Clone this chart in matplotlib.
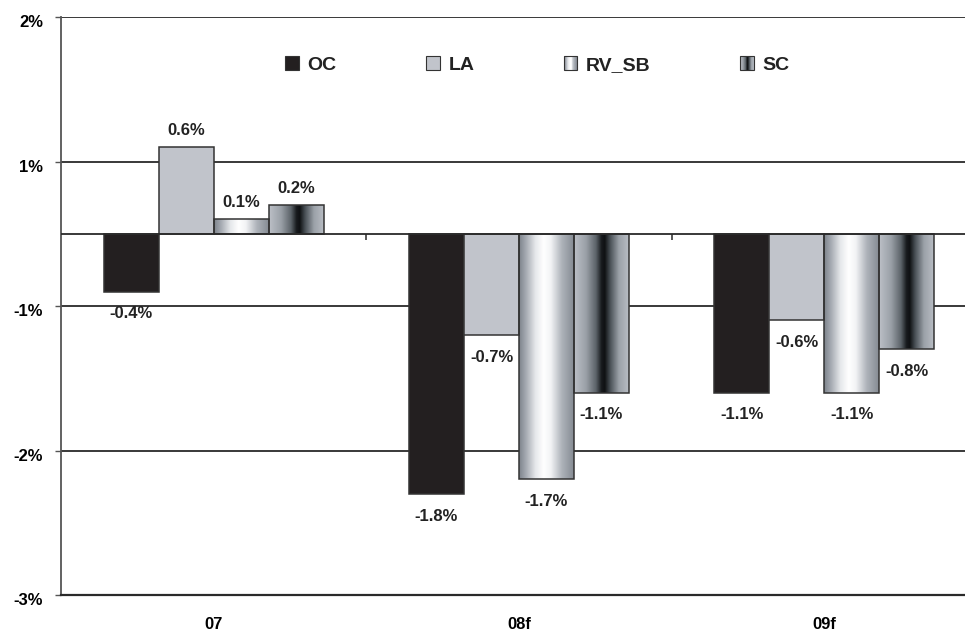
import matplotlib
matplotlib.use("Agg")
import matplotlib.pyplot as plt
import matplotlib.transforms as mtransforms
from matplotlib.colors import LinearSegmentedColormap
from matplotlib.legend_handler import HandlerBase
from matplotlib.patches import Rectangle
import numpy as np

plt.rcParams['font.family'] = ['Liberation Sans', 'DejaVu Sans']
plt.rcParams['font.weight'] = 'bold'

categories = ['07', '08f', '09f']
series = ['OC', 'LA', 'RV_SB', 'SC']
oc = [-0.4, -1.8, -1.1]
la = [0.6, -0.7, -0.6]
rv_sb = [0.1, -1.7, -1.1]
sc = [0.2, -1.1, -0.8]
values = [oc, la, rv_sb, sc]

ytick_pos = [-2.5, -1.5, -0.5, 0.5, 1.5]
ytick_labels = ['-3%', '-2%', '-1%', '1%', '2%']

edge = '#333333'
grid = '#2a2a2a'

# horizontal shading for the "cylinder" style bars
cmap_rv = LinearSegmentedColormap.from_list('rv', [
    (0.0, '#7d838b'), (0.12, '#a3a8b0'), (0.30, '#e6e8eb'), (0.45, '#ffffff'),
    (0.58, '#f2f3f5'), (0.78, '#aeb3ba'), (1.0, '#858b93')])
cmap_sc = LinearSegmentedColormap.from_list('sc', [
    (0.0, '#bcc0c7'), (0.22, '#9aa0a7'), (0.40, '#5c6369'), (0.50, '#181b1e'),
    (0.56, '#0f1113'), (0.66, '#4a5157'), (0.82, '#9ba1a8'), (1.0, '#b9bdc4')])
fills = ['#231f20', '#c1c4cb', cmap_rv, cmap_sc]

fig = plt.figure(figsize=(9.65, 6.31), dpi=100)
ax = fig.add_axes([61 / 965, 36 / 631, 916 / 965, 578 / 631])

width = 0.18
offsets = [-0.27, -0.09, 0.09, 0.27]
x = np.arange(len(categories))

for vals, fill, off in zip(values, fills, offsets):
    xs = x + off
    if isinstance(fill, str):
        ax.bar(xs, vals, width, color=fill, edgecolor=edge, linewidth=1.1, zorder=3)
    else:
        grad = np.linspace(0, 1, 256).reshape(1, -1)
        for xc, v in zip(xs, vals):
            ax.imshow(grad, cmap=fill, aspect='auto', interpolation='bilinear',
                      extent=(xc - width / 2, xc + width / 2, min(v, 0), max(v, 0)),
                      zorder=2)
        ax.bar(xs, vals, width, facecolor='none', edgecolor=edge, linewidth=1.1, zorder=3)
    for xc, v in zip(xs, vals):
        dy = 12 if v > 0 else -16
        ax.annotate(f'{v:.1f}%', (xc, v), xytext=(0, dy), textcoords='offset points',
                    ha='center', va='center', fontsize=12, fontweight='bold', color='#222222')

ax.set_xlim(-0.5, 2.5)
ax.set_ylim(-2.5, 1.5)

for y in ytick_pos[1:]:
    ax.axhline(y, color=grid, linewidth=1.3, zorder=1)
ax.axhline(0, color=grid, linewidth=1.3, zorder=4)
ax.vlines(x[:-1] + 0.5, 0, -0.045, color=grid, linewidth=1.1, zorder=4)

ax.set_yticks(ytick_pos)
ax.set_yticklabels(ytick_labels)
ax.set_xticks(x)
ax.set_xticklabels(categories)
ax.tick_params(axis='y', length=4.5, width=1, color='#555555', pad=8.5, labelsize=12)
ax.tick_params(axis='x', length=0, pad=16, labelsize=12)
shift = mtransforms.ScaledTranslation(0, -3 / 72, fig.dpi_scale_trans)
for lab in ax.get_yticklabels():
    lab.set_transform(lab.get_transform() + shift)

ax.spines['right'].set_visible(False)
ax.spines['top'].set_visible(False)
ax.spines['left'].set_color('#555555')
ax.spines['left'].set_linewidth(1.3)
ax.spines['bottom'].set_color(grid)
ax.spines['bottom'].set_linewidth(1.6)


class SwatchHandler(HandlerBase):
    def create_artists(self, legend, orig_handle, xdescent, ydescent, width, height,
                       fontsize, trans):
        fill = orig_handle.fill
        size = height
        x0 = -xdescent
        y0 = -ydescent
        arts = []
        if isinstance(fill, str):
            arts.append(Rectangle((x0, y0), size, size, facecolor=fill,
                                  edgecolor=edge, linewidth=0.8, transform=trans))
        else:
            n = 14
            for i in range(n):
                arts.append(Rectangle((x0 + i * size / n, y0), size / n + 0.2, size,
                                      facecolor=fill((i + 0.5) / n), edgecolor='none',
                                      transform=trans))
            arts.append(Rectangle((x0, y0), size, size, facecolor='none',
                                  edgecolor=edge, linewidth=0.8, transform=trans))
        return arts


class Swatch:
    def __init__(self, fill):
        self.fill = fill


handles = [Swatch(f) for f in fills]
leg = ax.legend(handles, series, handler_map={Swatch: SwatchHandler()},
                loc='center left', bbox_to_anchor=(285 / 965, 1 - 65 / 631),
                bbox_transform=fig.transFigure, ncol=4, frameon=False,
                handlelength=0.7, handleheight=0.7, handletextpad=0.45,
                columnspacing=4.6, borderpad=0, borderaxespad=0,
                prop={'size': 14, 'weight': 'bold'})
for t in leg.get_texts():
    t.set_color('#222222')

fig.savefig('out.png', dpi=100)
